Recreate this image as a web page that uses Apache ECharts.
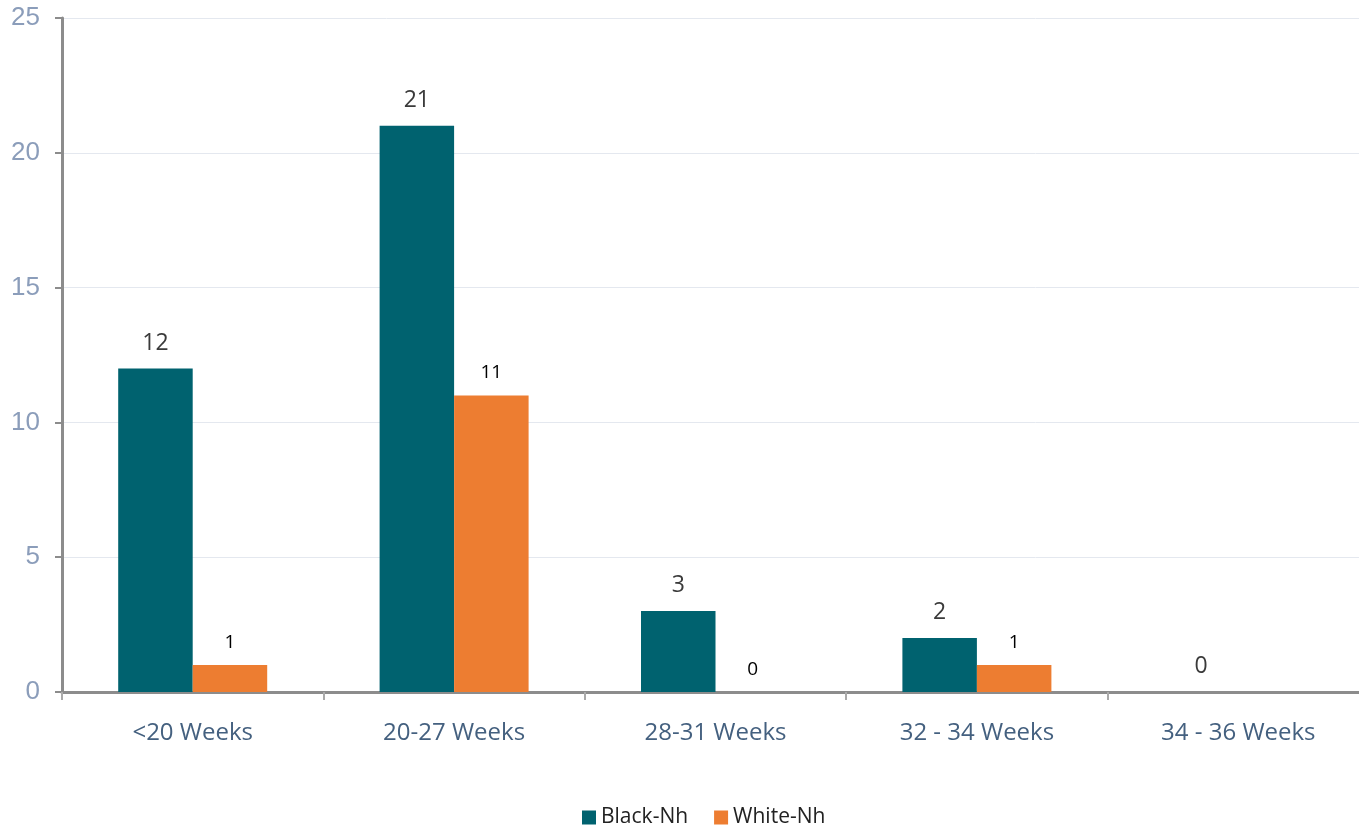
<!DOCTYPE html>
<html>
<head>
<meta charset="utf-8">
<script src="https://cdn.jsdelivr.net/npm/echarts@6/dist/echarts.min.js"></script>
<style>
  html, body { margin: 0; padding: 0; background: #fff; }
  #main { width: 1359px; height: 827px; }
</style>
</head>
<body>
<div id="main"></div>
<script>
// data
const categories = ['<20 Weeks', '20-27 Weeks', '28-31 Weeks', '32 - 34 Weeks', '34 - 36 Weeks'];
const blackNh = [12, 21, 3, 2, 0];
const whiteNh = [1, 11, 0, 1, null];
const yTicks = [0, 5, 10, 15, 20, 25];

const chart = echarts.init(document.getElementById('main'));
chart.setOption({
  animation: false,
  grid: {
    left: 62,
    right: -10,
    top: 18,
    bottom: 135,
    outerBoundsMode: 'none'
  },
  legend: {
    bottom: -6,
    left: 577,
    icon: 'rect',
    itemWidth: 14,
    itemHeight: 14,
    itemGap: 26,
    textStyle: { fontFamily: 'Open Sans', fontSize: 21, color: '#222' },
    data: ['Black-Nh', 'White-Nh']
  },
  xAxis: {
    type: 'category',
    data: categories,
    axisLine: { lineStyle: { color: '#8c8c8c', width: 3 } },
    axisTick: { show: true, length: 8, lineStyle: { color: '#aaaaaa', width: 2 } },
    axisLabel: {
      margin: 29,
      fontFamily: 'Open Sans',
      fontSize: 24,
      color: '#44607f'
    }
  },
  yAxis: {
    type: 'value',
    min: yTicks[0],
    max: yTicks[yTicks.length - 1],
    interval: 5,
    axisLine: { show: true, lineStyle: { color: '#8c8c8c', width: 3 } },
    axisTick: { show: true, length: 7, lineStyle: { color: '#8c8c8c', width: 2 } },
    axisLabel: {
      margin: 22,
      fontFamily: 'Liberation Sans',
      fontSize: 26,
      color: '#8b9dba'
    },
    splitLine: { show: true, lineStyle: { color: '#e4e8ef', width: 1 } }
  },
  series: [
    {
      name: 'Black-Nh',
      type: 'bar',
      data: blackNh,
      barGap: '0%',
      barCategoryGap: '43%',
      itemStyle: { color: '#00626f' },
      label: {
        show: true,
        position: 'top',
        distance: 14,
        fontFamily: 'Open Sans',
        fontSize: 23,
        color: '#3a3a3a'
      }
    },
    {
      name: 'White-Nh',
      type: 'bar',
      data: whiteNh,
      barGap: '0%',
      barCategoryGap: '43%',
      itemStyle: { color: '#ed7d31' },
      label: {
        show: true,
        position: 'top',
        distance: 13,
        fontFamily: 'Open Sans',
        fontSize: 19,
        color: '#000'
      }
    }
  ]
});
</script>
</body>
</html>
